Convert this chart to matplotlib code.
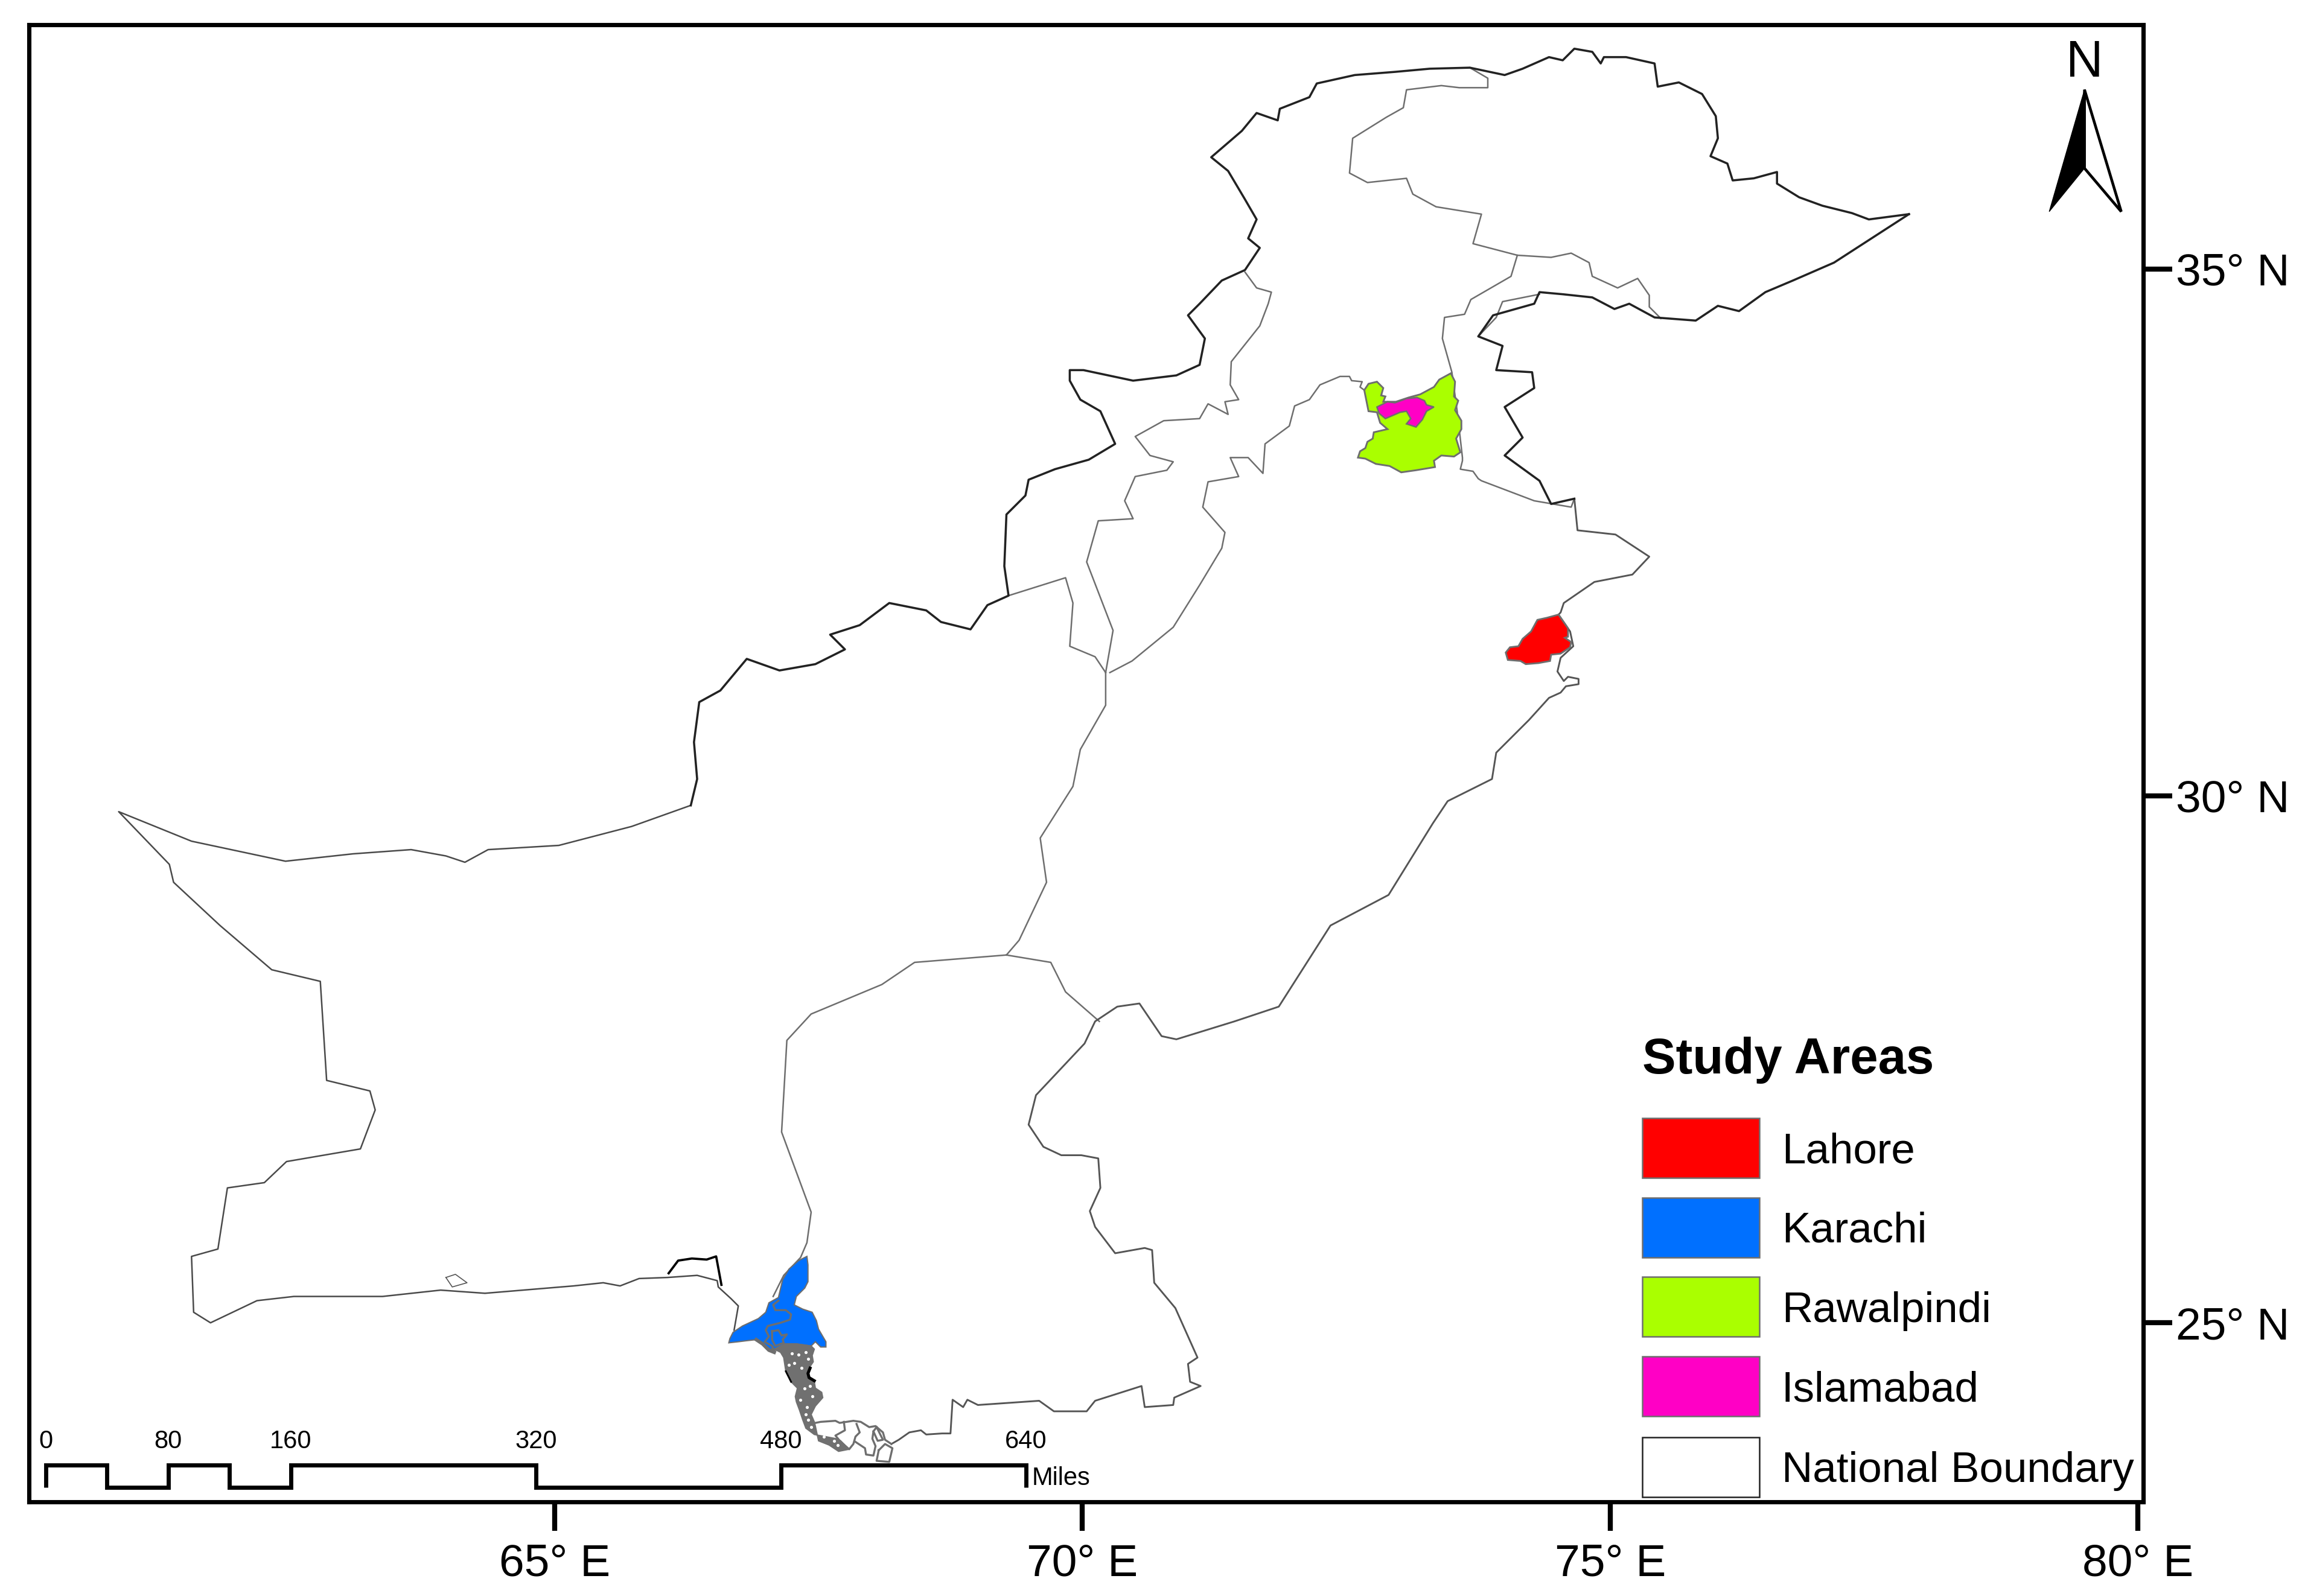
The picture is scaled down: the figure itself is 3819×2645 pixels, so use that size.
import matplotlib
matplotlib.use("Agg")
import matplotlib.pyplot as plt
from matplotlib.patches import Polygon, Rectangle

plt.rcParams['font.family'] = ['Liberation Sans', 'DejaVu Sans']

afghan_border = [(66.29,29.91),(66.35,30.16),(66.32,30.51),(66.37,30.89),(66.57,31.00),(66.82,31.30),(67.13,31.19),
    (67.47,31.25),(67.75,31.39),(67.61,31.53),(67.89,31.62),(68.17,31.83),(68.52,31.76),(68.66,31.65),(68.94,31.58),
    (69.10,31.81),(69.30,31.90),(69.26,32.18),(69.28,32.67),(69.46,32.85),(69.49,33.00),(69.74,33.10),(70.06,33.19),
    (70.31,33.34),(70.17,33.65),(69.98,33.76),(69.88,33.94),(69.88,34.04),(70.01,34.04),(70.48,33.94),(70.89,33.99),
    (71.11,34.09),(71.16,34.34),(71.00,34.56),(71.11,34.67),(71.32,34.89),(71.54,34.99),(71.68,35.20),(71.57,35.29),
    (71.65,35.47),(71.54,35.66),(71.38,35.93),(71.22,36.06),(71.51,36.31),(71.65,36.48),(71.85,36.41),(71.87,36.52),
    (72.15,36.63),(72.22,36.76),(72.58,36.84),(72.96,36.87),(73.29,36.90),(73.67,36.91),(74.00,36.84),(74.17,36.90),
    (74.42,37.01),(74.55,36.98),(74.66,37.09),(74.83,37.06),(74.91,36.95),(74.94,37.01),(75.15,37.01),(75.42,36.95),
    (75.45,36.73),(75.65,36.77),(75.87,36.66),(76.00,36.45),(76.02,36.24),(75.95,36.07),(76.11,36.00),(76.16,35.84),
    (76.36,35.86),(76.58,35.92),(76.58,35.81),(76.79,35.68),(77.01,35.60),(77.29,35.53),(77.45,35.47),(77.83,35.52)]
loc_border = [(77.83,35.52),(77.12,35.06),(76.73,34.89),(76.47,34.78),(76.22,34.60),(76.02,34.65),(75.81,34.51),
    (75.42,34.54),(75.18,34.67),(75.04,34.62),(74.83,34.73),(74.55,34.76),(74.33,34.78),(74.28,34.67),(73.89,34.56),
    (73.75,34.36),(73.98,34.27),(73.92,34.04),(74.26,34.02),(74.28,33.87),(74.00,33.69),(74.17,33.40),(74.00,33.23),
    (74.33,32.99),(74.44,32.77),(74.66,32.82)]
india_border = [(74.66,32.82),(74.69,32.52),(75.05,32.48),(75.37,32.27),(75.21,32.10),(74.85,32.03),(74.56,31.83),
    (74.53,31.74),(74.51,31.72),(74.62,31.56),(74.65,31.42),(74.53,31.31),(74.50,31.18),(74.56,31.09),(74.60,31.13),
    (74.70,31.11),(74.70,31.06),(74.58,31.04),(74.53,30.98),(74.42,30.93),(74.23,30.72),(73.92,30.41),(73.88,30.16),
    (73.46,29.95),(73.32,29.74),(72.90,29.06),(72.35,28.77),(71.86,28.00),(71.44,27.86),(70.89,27.69),(70.75,27.72),
    (70.54,28.03),(70.33,28.00),(70.12,27.86),(70.02,27.65),(69.56,27.16),(69.49,26.88),(69.63,26.67),(69.80,26.59),
    (69.99,26.59),(70.15,26.56),(70.17,26.28),(70.07,26.06),(70.12,25.91),(70.31,25.66),(70.59,25.71),(70.66,25.69),
    (70.68,25.38),(70.88,25.14),(71.09,24.67),(71.00,24.61),(71.02,24.44),(71.12,24.40),(70.87,24.29),(70.86,24.22),
    (70.59,24.20),(70.56,24.40),(70.12,24.26),(70.04,24.16),(69.73,24.16),(69.59,24.26),(69.01,24.22),(68.91,24.27),
    (68.87,24.20),(68.77,24.27),(68.75,23.95),(68.67,23.95),(68.52,23.94),(68.47,23.98),(68.36,23.96),(68.26,23.89),
    (68.19,23.85)]
coast_west = [(66.70,24.93),(66.74,25.16),(66.67,25.23),(66.55,25.34),(66.54,25.40),(66.35,25.45),(66.07,25.43),
    (65.80,25.42),(65.62,25.35),(65.46,25.38),(65.18,25.35),(64.34,25.28),(63.92,25.31),(63.37,25.25),(62.53,25.25),
    (62.18,25.21),(61.74,25.00),(61.58,25.10),(61.56,25.63),(61.81,25.70),(61.90,26.28),(62.25,26.33),(62.46,26.53),
    (63.16,26.65),(63.30,27.02),(63.25,27.20),(62.84,27.30),(62.78,28.24),(62.32,28.35),(61.83,28.77),(61.39,29.18),
    (61.35,29.35),(60.87,29.85),(61.56,29.57),(62.45,29.38),(63.09,29.45),(63.64,29.49),(63.97,29.43),(64.15,29.37),
    (64.37,29.49),(65.04,29.53),(65.73,29.71),(66.29,29.91)]

gilgit_line = [(73.67,36.91),(73.84,36.81),(73.84,36.72),(73.57,36.72),(73.40,36.74),(73.07,36.70),(73.04,36.53),
    (72.88,36.44),(72.56,36.24),(72.53,35.91),(72.70,35.82),(73.07,35.86),(73.13,35.71),(73.35,35.59),(73.78,35.52),
    (73.70,35.24),(74.12,35.13),(74.44,35.11),(74.63,35.15),(74.80,35.06),(74.83,34.93),(75.07,34.82),(75.26,34.91),
    (75.37,34.75),(75.37,34.64),(75.48,34.53)]
ajk_line = [(74.12,35.13),(74.06,34.93),(73.68,34.71),(73.62,34.57),(73.43,34.54),(73.41,34.34),(73.50,34.02),
    (73.55,33.65),(73.60,33.21),(73.60,33.18),(73.58,33.10),(73.70,33.08),(73.75,33.01),(73.78,32.99),(74.28,32.80),
    (74.63,32.74),(74.66,32.82)]
ajk_inner = [(74.33,34.76),(73.98,34.69),(73.92,34.54),(73.75,34.36)]
kp_punjab = [(72.67,33.85),(72.63,33.88),(72.65,33.93),(72.55,33.94),(72.53,33.98),(72.44,33.98),(72.25,33.90),
    (72.15,33.76),(72.01,33.70),(71.96,33.51),(71.73,33.34),(71.71,33.06),(71.57,33.21),(71.40,33.21),(71.48,33.03),
    (71.19,32.98),(71.14,32.74),(71.35,32.50),(71.32,32.35),(71.11,32.00),(70.86,31.60),(70.47,31.28),(70.26,31.17)]
fata_line = [(71.54,34.97),(71.65,34.82),(71.79,34.78),(71.76,34.67),(71.68,34.46),(71.41,34.12),(71.40,33.90),
    (71.48,33.76),(71.35,33.74),(71.38,33.62),(71.19,33.72),(71.11,33.58),(70.77,33.56),(70.50,33.41),(70.64,33.23),
    (70.86,33.17),(70.80,33.09),(70.50,33.03),(70.40,32.80),(70.48,32.63),(70.15,32.61),(70.04,32.22),(70.29,31.57),
    (70.22,31.17)]
fata_south = [(69.30,31.90),(69.84,32.07),(69.91,31.83),(69.88,31.42),(70.12,31.32),(70.22,31.17)]
bal_punjab = [(70.22,31.17),(70.22,30.86),(69.98,30.44),(69.91,30.09),(69.60,29.60),(69.66,29.18),(69.40,28.63),(69.28,28.49)]
bal_sindh = [(69.28,28.49),(68.41,28.42),(68.10,28.21),(67.43,27.93),(67.20,27.68),(67.15,26.81),(67.43,26.05),
    (67.39,25.76),(67.33,25.62),(67.17,25.45),(67.07,25.25)]
punjab_sindh = [(69.28,28.49),(69.70,28.42),(69.84,28.14),(70.16,27.86)]
province_lines = [gilgit_line, ajk_line, ajk_inner, kp_punjab, fata_line, fata_south, bal_punjab, bal_sindh, punjab_sindh]

rawalpindi = [(73.49,34.01),(73.53,33.93),(73.52,33.79),(73.56,33.75),(73.53,33.66),(73.59,33.56),(73.59,33.48),
    (73.54,33.39),(73.58,33.26),(73.52,33.22),(73.40,33.23),(73.33,33.18),(73.34,33.12),(73.16,33.09),(73.02,33.07),
    (72.91,33.13),(72.78,33.15),(72.68,33.20),(72.61,33.21),(72.63,33.27),(72.68,33.30),(72.70,33.36),(72.75,33.39),
    (72.76,33.45),(72.89,33.48),(72.82,33.54),(72.79,33.64),(72.71,33.65),(72.67,33.85),(72.71,33.91),(72.79,33.93),
    (72.85,33.87),(72.83,33.80),(72.87,33.79),(72.85,33.74),(72.97,33.74),(73.09,33.78),(73.20,33.81),(73.33,33.88),
    (73.38,33.95)]
islamabad = [(72.79,33.69),(72.89,33.74),(72.96,33.73),(73.07,33.77),(73.17,33.78),(73.24,33.75),(73.26,33.71),
    (73.33,33.69),(73.26,33.65),(73.22,33.57),(73.16,33.50),(73.07,33.53),(73.11,33.58),(73.07,33.65),(73.01,33.64),
    (72.87,33.58),(72.81,33.63)]
lahore = [(74.51,31.72),(74.60,31.59),(74.60,31.51),(74.57,31.50),(74.63,31.46),(74.62,31.41),(74.53,31.35),
    (74.44,31.34),(74.43,31.28),(74.32,31.26),(74.20,31.25),(74.15,31.28),(74.03,31.29),(74.01,31.36),(74.05,31.41),
    (74.13,31.42),(74.17,31.49),(74.25,31.56),(74.31,31.67),(74.40,31.69)]
karachi = [(67.39,25.63),(67.40,25.55),(67.40,25.39),(67.37,25.33),(67.29,25.25),(67.27,25.17),(67.35,25.13),
    (67.44,25.10),(67.48,25.02),(67.50,24.94),(67.57,24.82),(67.57,24.77),(67.52,24.77),(67.47,24.82),(67.43,24.78),
    (67.29,24.80),(67.18,24.80),(67.10,24.74),(67.06,24.74),(66.99,24.78),(66.91,24.84),(66.82,24.83),(66.74,24.82),
    (66.65,24.81),(66.66,24.85),(66.69,24.91),(66.78,24.97),(66.93,25.04),(67.00,25.10),(67.03,25.19),(67.12,25.24),
    (67.16,25.41),(67.22,25.51),(67.31,25.59)]
karachi_river = [(67.12,25.21),(67.07,25.17),(67.09,25.12),(67.19,25.12),(67.24,25.08),(67.23,25.03),(67.14,25.00),
    (67.02,24.97),(67.00,24.93),(67.03,24.87),(66.99,24.82),(67.06,24.78),(67.08,24.74)]
karachi_creek = [(67.06,24.92),(67.12,24.93),(67.15,24.88),(67.20,24.89),(67.16,24.84),(67.17,24.81),(67.09,24.78),
    (67.06,24.84),(67.06,24.92)]
karachi_shore = [(66.91,24.84),(66.97,24.80),(67.03,24.74),(67.08,24.72)]

delta_band = [(67.46,24.75),(67.44,24.69),(67.45,24.63),(67.41,24.57),(67.39,24.51),(67.46,24.44),(67.47,24.38),
    (67.53,24.34),(67.54,24.29),(67.47,24.21),(67.43,24.13),(67.46,24.06),(67.47,24.02),(67.50,23.88),(67.60,23.84),
    (67.69,23.78),(67.79,23.80),(67.71,23.88),(67.67,23.90),(67.46,23.94),(67.38,24.00),(67.35,24.08),(67.32,24.17),
    (67.29,24.25),(67.28,24.30),(67.30,24.38),(67.24,24.44),(67.19,24.54),(67.17,24.67),(67.14,24.72),(67.06,24.76),
    (67.06,24.74),(67.18,24.80),(67.29,24.80),(67.43,24.78)]
delta_flecks = [(67.25,24.71),(67.31,24.70),(67.38,24.72),(67.22,24.60),(67.27,24.62),(67.34,24.57),(67.40,24.66),
    (67.37,24.38),(67.42,24.40),(67.33,24.27),(67.39,24.20),(67.44,24.30),(67.38,24.13),(67.43,24.01),(67.40,24.08),
    (67.65,23.88),(67.68,23.84),(67.55,23.92)]
delta_black = [(67.42,24.57),(67.40,24.52),(67.41,24.48),(67.46,24.45)]
delta_black2 = [(67.19,24.54),(67.24,24.44)]
delta_outer = [(67.47,24.05),(67.52,24.06),(67.66,24.07),(67.70,24.05),(67.83,24.07),(67.90,24.06),(67.98,24.01),
    (68.04,24.02),(68.11,23.96),(68.13,23.89),(68.19,23.85)]
delta_inner1 = [(67.74,24.06),(67.75,23.98),(67.66,23.93),(67.71,23.87),(67.79,23.80),(67.83,23.85),(67.85,23.92),
    (67.89,23.96),(67.86,24.04)]
delta_inner2 = [(67.85,23.87),(67.94,23.81),(67.95,23.75),(68.02,23.74),(68.04,23.83),(68.01,23.90),(68.02,23.97),(68.05,24.01)]
delta_inner3 = [(68.07,23.79),(68.05,23.69),(68.17,23.68),(68.20,23.81),(68.13,23.85),(68.07,23.79)]
delta_inner4 = [(68.02,23.97),(68.06,23.88),(68.11,23.89),(68.05,24.01)]
delta_lines = [delta_outer, delta_inner1, delta_inner2, delta_inner3, delta_inner4]
gwadar_bay = [(66.08,25.47),(66.17,25.59),(66.30,25.61),(66.44,25.60),(66.53,25.63),(66.58,25.36)]
island = [(63.97,25.43),(64.06,25.46),(64.17,25.38),(64.03,25.34),(63.97,25.43)]

lon_ticks = [65, 70, 75, 80]
lat_ticks = [25, 30, 35]
lon_labels = ['65° E', '70° E', '75° E', '80° E']
lat_labels = ['25° N', '30° N', '35° N']

legend_names = ['Lahore', 'Karachi', 'Rawalpindi', 'Islamabad', 'National Boundary']
legend_colors = ['#FF0000', '#0070FF', '#AAFF00', '#FF00C5', 'white']
legend_edges = ['#6E6E6E', '#6E6E6E', '#6E6E6E', '#6E6E6E', '#222222']

scale_steps = [0, 40, 80, 120, 160, 320, 480, 640]
scale_labels = [0, 80, 160, 320, 480, 640]


def draw(ax, pts, **kw):
    ax.plot([p[0] for p in pts], [p[1] for p in pts], solid_joinstyle='round', **kw)


W, H = 1568, 1086  # layout units, same as the reduced picture
fig = plt.figure(figsize=(3819/300, 2645/300), dpi=300)
ax = fig.add_axes([19.7/W, (H-1022)/H, (1458-19.7)/W, (1022-17)/H])
ax.set_xlim(60.02, 80.05)
ax.set_ylim(23.30, 37.315)

grey = '#6e6e6e'
for line in province_lines:
    draw(ax, line, color=grey, lw=0.6)
draw(ax, india_border, color='#555555', lw=0.7)
draw(ax, coast_west, color='#4a4a4a', lw=0.6)
draw(ax, afghan_border, color='#222222', lw=0.85)
draw(ax, loc_border, color='#222222', lw=0.85)
draw(ax, island, color='#555555', lw=0.4)
draw(ax, gwadar_bay, color='black', lw=0.9)

ax.add_patch(Polygon(rawalpindi, fc='#AAFF00', ec=grey, lw=0.7, zorder=3))
ax.add_patch(Polygon(islamabad, fc='#FF00C5', ec=grey, lw=0.6, zorder=4))
ax.add_patch(Polygon(lahore, fc='#FF0000', ec=grey, lw=0.7, zorder=3))
ax.add_patch(Polygon(karachi, fc='#0070FF', ec=grey, lw=0.5, zorder=3))
draw(ax, karachi_river, color=grey, lw=0.8, zorder=4)
draw(ax, karachi_creek, color=grey, lw=0.8, zorder=4)
draw(ax, karachi_shore, color=grey, lw=1.4, zorder=4)
ax.add_patch(Polygon(delta_band, fc='#707070', ec='#707070', lw=0.5, zorder=3))
ax.scatter([p[0] for p in delta_flecks], [p[1] for p in delta_flecks], s=1.5, c='white', lw=0, zorder=4)
draw(ax, delta_black, color='black', lw=1.2, zorder=4)
draw(ax, delta_black2, color='black', lw=0.7, zorder=4)
for line in delta_lines:
    draw(ax, line, color=grey, lw=0.8)

ax.set_xticks(lon_ticks)
ax.set_xticklabels(lon_labels, fontsize=18)
ax.yaxis.tick_right()
ax.set_yticks(lat_ticks)
ax.set_yticklabels(lat_labels, fontsize=18)
ax.tick_params(axis='x', length=11.5, width=2, pad=5)
ax.tick_params(axis='y', length=11.5, width=2, pad=1.5)
for s in ax.spines.values():
    s.set_linewidth(1.7)

# second layer for the map furniture
ov = fig.add_axes([0, 0, 1, 1], facecolor='none')
ov.set_xlim(0, W)
ov.set_ylim(H, 0)
ov.axis('off')

# legend
ov.text(1117, 721.5, 'Study Areas', fontsize=20, fontweight='bold', va='center')
box_tops = [761, 815, 869, 923, 978]
for name, col, edge, top in zip(legend_names, legend_colors, legend_edges, box_tops):
    ov.add_patch(Rectangle((1117, top), 80, 40.5, fc=col, ec=edge, lw=0.6))
    ov.text(1212, top+23, name, fontsize=17, va='center')

# scale bar
per_mile = (698-31)/640
bar_top, bar_bottom = 997, 1012
xs, ys = [31, 31], [bar_bottom, bar_top]
level = bar_top
for m in scale_steps[1:]:
    x = 31 + m*per_mile
    xs.append(x); ys.append(level)
    level = bar_bottom if level == bar_top else bar_top
    xs.append(x); ys.append(level)
ov.plot(xs, ys, color='black', lw=1.65, solid_joinstyle='miter', solid_capstyle='butt')
for m in scale_labels:
    ov.text(31 + m*per_mile, 981, str(m), fontsize=10, ha='center', va='center')
ov.text(702, 1006, 'Miles', fontsize=10, va='center')

# north arrow
ov.add_patch(Polygon([(1418, 61), (1443, 144), (1418, 114.5)], fc='white', ec='black', lw=1.1, joinstyle='miter'))
ov.add_patch(Polygon([(1418, 61), (1394, 144), (1418, 114.5)], fc='black', ec='black', lw=0.3))
ov.text(1418, 43, 'N', fontsize=20.5, ha='center', va='center')

fig.savefig('out.png', dpi=300)
